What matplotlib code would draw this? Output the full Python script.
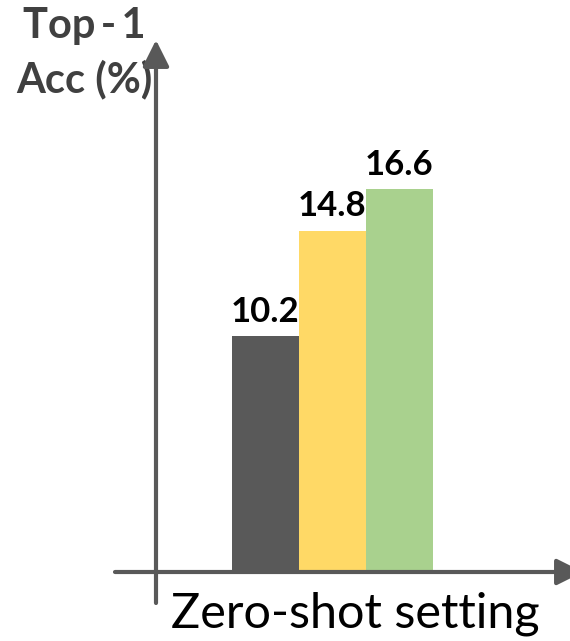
import matplotlib
matplotlib.use("Agg")
import matplotlib.pyplot as plt

# Zero-shot top-1 accuracy for three methods
methods = ["Baseline", "Variant A", "Variant B"]
accuracy = [10.2, 14.8, 16.6]
bar_colors = ["#595959", "#FFD966", "#A9D18E"]
x_label = "Zero-shot setting"
y_label_lines = ["Top\u2009-\u20091", "Acc (%)"]

W, H, DPI = 570, 641, 100
fig = plt.figure(figsize=(W / DPI, H / DPI), dpi=DPI)
ax = fig.add_axes([0, 0, 1, 1])
ax.set_axis_off()

# Layout in pixels: bar unit width, centre of first bar, baseline and vertical scale
bar_px = 67.0
first_center_px = 265.0
base_px = 70.0          # from bottom of figure
px_per_unit = 23.0

ax.set_xlim(-first_center_px / bar_px, (W - first_center_px) / bar_px)
ax.set_ylim(-base_px / px_per_unit, (H - base_px) / px_per_unit)

xs = list(range(len(methods)))
bars = ax.bar(xs, accuracy, width=1.0, color=bar_colors, zorder=2)
for rect, val in zip(bars, accuracy):
    ax.annotate(f"{val:.1f}", (rect.get_x() + rect.get_width() / 2, rect.get_height()),
                xytext=(0, 6), textcoords="offset points", ha="center", va="bottom",
                fontsize=25, fontweight="bold", family=["Lato", "DejaVu Sans"],
                color="black", zorder=3)

axis_color = "#595959"
arrow = dict(arrowstyle="-|>,head_length=0.4,head_width=0.2", mutation_scale=40,
             lw=3, color=axis_color, shrinkA=0, shrinkB=0)
# x axis
fig.add_artist(matplotlib.patches.FancyArrowPatch(
    (115, base_px - 1), (583, base_px - 1), transform=None, zorder=4, **arrow))
# y axis
fig.add_artist(matplotlib.patches.FancyArrowPatch(
    (156, 38), (156, H - 40), transform=None, zorder=4, **arrow))

fig.text(355 / W, 1 - 614 / H, x_label, ha="center", va="center",
         fontsize=35, family=["Lato", "DejaVu Sans"], color="black")
fig.text(84 / W, 1 - 26 / H, y_label_lines[0], ha="center", va="center",
         fontsize=30, fontweight="bold", family=["Lato", "DejaVu Sans"],
         color="#404040")
fig.text(84 / W, 1 - 79 / H, y_label_lines[1], ha="center", va="center",
         fontsize=30, fontweight="bold", family=["Lato", "DejaVu Sans"],
         color="#404040")

fig.savefig("out.png", dpi=DPI)
